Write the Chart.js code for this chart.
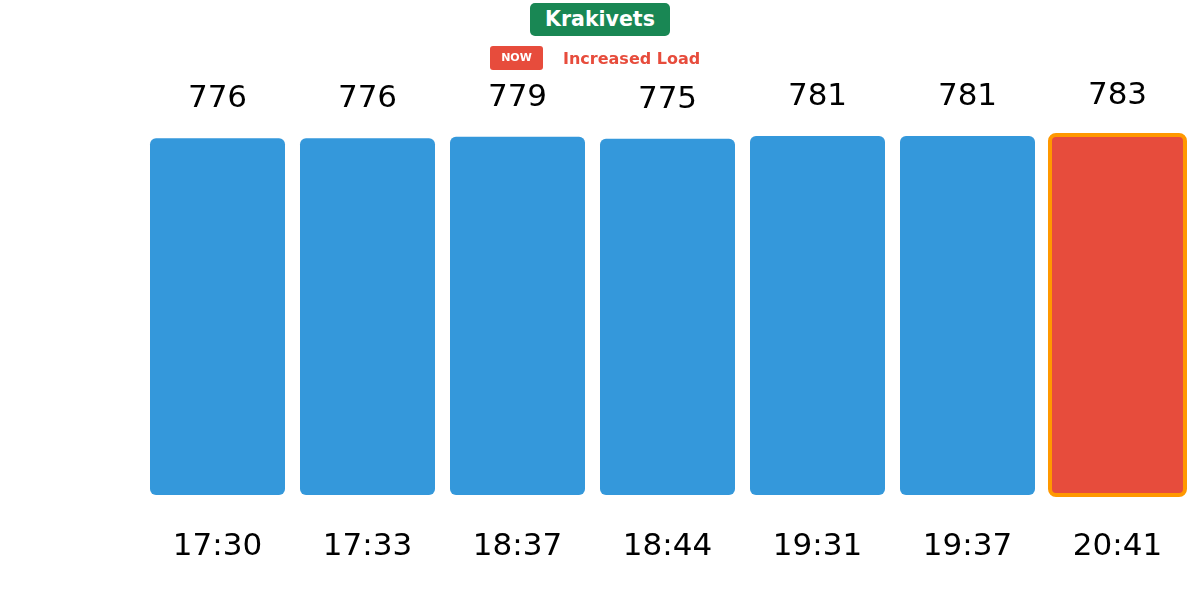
<!DOCTYPE html>
<html>
<head>
<meta charset="utf-8">
<script src="https://cdn.jsdelivr.net/npm/chart.js@4.4.1/dist/chart.umd.min.js"></script>
<style>
    html, body { margin: 0; padding: 0; background: #fff; }
    #wrap { position: relative; width: 1200px; height: 616px; font-family: "DejaVu Sans", sans-serif; }
    #tytul {
        position: absolute; left: 530px; top: 3px; width: 140px; height: 33px;
        background: #198754; color: #fff; border-radius: 5px;
        font-weight: bold; font-size: 20.5px; line-height: 33px; text-align: center;
    }
    #teraz {
        position: absolute; left: 490px; top: 46px; width: 53px; height: 24px;
        background: #e74c3c; color: #fff; border-radius: 3px;
        font-weight: bold; font-size: 11px; line-height: 24px; text-align: center;
    }
    #status {
        position: absolute; left: 563px; top: 48px; height: 22px;
        color: #e74c3c; font-weight: bold; font-size: 16px; line-height: 22px; white-space: nowrap;
    }
    canvas { position: absolute; left: 0; top: 0; }
</style>
</head>
<body>
<div id="wrap">
    <canvas id="wykres" width="1200" height="616"></canvas>
    <div id="tytul">Krakivets</div>
    <div id="teraz">NOW</div>
    <div id="status">Increased Load</div>
</div>
<script>
const godziny = ['17:30', '17:33', '18:37', '18:44', '19:31', '19:37', '20:41'];
const wartosci = [776, 776, 779, 775, 781, 781, 783];
const indeksTeraz = 6;

const kolorSlupka = '#3498db';
const kolorTeraz = '#e74c3c';
const kolorObramowania = '#ff9800';

const etykietyPlugin = {
    id: 'etykiety',
    afterDatasetsDraw(chart) {
        const ctx = chart.ctx;
        const meta = chart.getDatasetMeta(0);
        const dol = chart.chartArea.bottom;

        // obramowanie aktualnego slupka (linia na krawedzi, nie do srodka)
        const el = meta.data[indeksTeraz];
        if (el) {
            ctx.save();
            ctx.strokeStyle = kolorObramowania;
            ctx.lineWidth = 4;
            ctx.beginPath();
            ctx.roundRect(el.x - el.width / 2, el.y, el.width, el.base - el.y, 6);
            ctx.stroke();
            ctx.restore();
        }

        ctx.save();
        ctx.fillStyle = '#000';
        ctx.font = '31px "DejaVu Sans"';
        ctx.textAlign = 'center';
        ctx.textBaseline = 'alphabetic';
        meta.data.forEach((bar, i) => {
            ctx.fillText(String(wartosci[i]), bar.x, bar.y - 31);
            ctx.fillText(godziny[i], bar.x, dol + 60);
        });
        ctx.restore();
    }
};

const ctx = document.getElementById('wykres').getContext('2d');
new Chart(ctx, {
    type: 'bar',
    data: {
        labels: godziny,
        datasets: [
            {
                data: wartosci,
                backgroundColor: c => c.dataIndex === indeksTeraz ? kolorTeraz : kolorSlupka,
                borderRadius: 6,
                borderSkipped: false,
                barPercentage: 0.9,
                categoryPercentage: 1
            }
        ]
    },
    options: {
        responsive: false,
        animation: false,
        layout: { padding: { left: 142.5, right: 7.5, top: 135, bottom: 121 } },
        plugins: { legend: { display: false }, tooltip: { enabled: false } },
        scales: {
            x: { display: false },
            y: {
                display: false,
                min: 0,
                max: Math.max(...wartosci)
            }
        }
    },
    plugins: [etykietyPlugin]
});
</script>
</body>
</html>
